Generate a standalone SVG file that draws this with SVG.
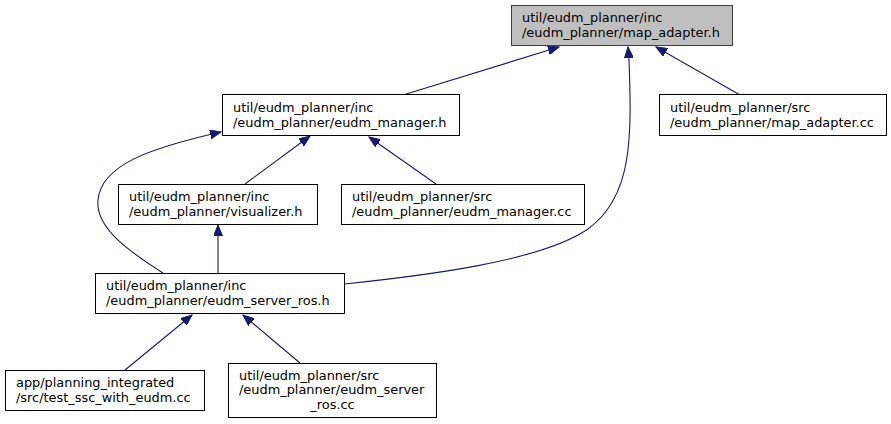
<svg xmlns="http://www.w3.org/2000/svg" width="891" height="424" viewBox="0 0 891 424">
<defs>
<style>
.box{fill:#ffffff;stroke:#000000;stroke-width:1}
.cur{fill:#bfbfbf;stroke:#404040;stroke-width:1}
text{font-family:"DejaVu Sans",sans-serif;font-size:12.9px;fill:#000000}
.e{fill:none;stroke:#191970;stroke-width:1.1;marker-end:url(#ah)}
</style>
<marker id="ah" markerUnits="userSpaceOnUse" markerWidth="12" markerHeight="9" refX="11" refY="4.5" orient="auto">
<path d="M0,0 L11,4.5 L0,9 z" fill="#191970" stroke="#191970" stroke-width="1"/>
</marker>
</defs>
<rect width="891" height="424" fill="#ffffff"/>
<g id="edges">
<path class="e" d="M403,95 L559,47"/>
<path class="e" d="M740,95 L656,47"/>
<path class="e" d="M345,284 C420,276 540,262 588,229 C632,197 632,140 629,60 L628,47"/>
<path class="e" d="M245,184 L310,136"/>
<path class="e" d="M436,184 L369,137"/>
<path class="e" d="M163,273 C130,252 95,228 98,200 C101,165 150,148 221,132"/>
<path class="e" d="M218,273 L218,225"/>
<path class="e" d="M125,370 L192,315"/>
<path class="e" d="M300,363 L243,315"/>
</g>
<g id="node_map_adapter_h">
<rect class="cur" x="511.5" y="5.5" width="221" height="40"/>
<text x="522" y="22">util/eudm_planner/inc</text>
<text x="522" y="37">/eudm_planner/map_adapter.h</text>
</g>
<g id="node_eudm_manager_h">
<rect class="box" x="222.5" y="94.5" width="237" height="41"/>
<text x="233" y="112">util/eudm_planner/inc</text>
<text x="233" y="127">/eudm_planner/eudm_manager.h</text>
</g>
<g id="node_map_adapter_cc">
<rect class="box" x="659.5" y="94.5" width="227" height="41"/>
<text x="670" y="112">util/eudm_planner/src</text>
<text x="670" y="127">/eudm_planner/map_adapter.cc</text>
</g>
<g id="node_visualizer_h">
<rect class="box" x="118.5" y="184.5" width="199" height="40"/>
<text x="129" y="201">util/eudm_planner/inc</text>
<text x="129" y="216">/eudm_planner/visualizer.h</text>
</g>
<g id="node_eudm_manager_cc">
<rect class="box" x="341.5" y="184.5" width="243" height="40"/>
<text x="352" y="201">util/eudm_planner/src</text>
<text x="352" y="216">/eudm_planner/eudm_manager.cc</text>
</g>
<g id="node_eudm_server_ros_h">
<rect class="box" x="95.5" y="273.5" width="249" height="40"/>
<text x="106" y="290">util/eudm_planner/inc</text>
<text x="106" y="305">/eudm_planner/eudm_server_ros.h</text>
</g>
<g id="node_test_ssc_with_eudm_cc">
<rect class="box" x="5.5" y="370.5" width="199" height="40"/>
<text x="16" y="387">app/planning_integrated</text>
<text x="16" y="402">/src/test_ssc_with_eudm.cc</text>
</g>
<g id="node_eudm_server_ros_cc">
<rect class="box" x="228.5" y="363.5" width="208" height="54"/>
<text x="239" y="380">util/eudm_planner/src</text>
<text x="239" y="394">/eudm_planner/eudm_server</text>
<text x="332.5" y="409" text-anchor="middle">_ros.cc</text>
</g>
</svg>
